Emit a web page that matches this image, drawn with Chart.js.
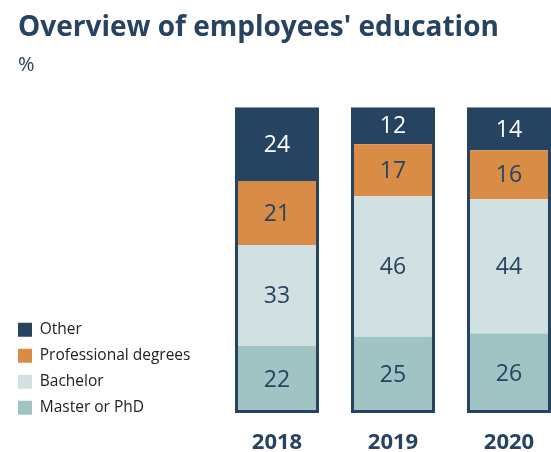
<!DOCTYPE html>
<html>
<head>
<meta charset="utf-8">
<script src="https://cdn.jsdelivr.net/npm/chart.js@4"></script>
<style>
  html, body { margin: 0; padding: 0; background: #fff; overflow: hidden; }
  #frame { width: 551px; height: 452px; overflow: hidden; position: relative; }
  #wrap { width: 575px; height: 452px; position: absolute; left: 0; top: 0; }
</style>
</head>
<body>
<div id="frame"><div id="wrap"><canvas id="eduChart"></canvas></div></div>
<script>
// Overview of employees' education (%)
const years = ["2018", "2019", "2020"];
const masterPhd = [22, 25, 26];
const bachelor = [33, 46, 44];
const professional = [21, 17, 16];
const other = [24, 12, 14];

const navy = "#264361";

// thick navy frame round each stacked bar
const barFrame = {
    id: 'barFrame',
    afterDatasetsDraw(chart) {
        const ctx = chart.ctx;
        const first = chart.getDatasetMeta(0).data;
        const last = chart.getDatasetMeta(chart.data.datasets.length - 1).data;
        ctx.save();
        ctx.strokeStyle = navy;
        ctx.lineWidth = 3;
        first.forEach((bar, i) => {
            const left = bar.x - bar.width / 2;
            const top = last[i].y;
            ctx.strokeRect(left + 1.5, top + 1.5, bar.width - 3, bar.base - top - 3);
        });
        ctx.restore();
    }
};

// value labels in the middle of every segment
const segLabels = {
    id: 'segLabels',
    afterDatasetsDraw(chart) {
        const ctx = chart.ctx;
        ctx.save();
        ctx.font = '23px "Open Sans"';
        ctx.textAlign = 'center';
        ctx.textBaseline = 'middle';
        chart.data.datasets.forEach((ds, d) => {
            ctx.fillStyle = ds.labelColor;
            chart.getDatasetMeta(d).data.forEach((bar, i) => {
                ctx.fillText(ds.data[i], bar.x, (bar.y + bar.base) / 2 + 1);
            });
        });
        ctx.restore();
    }
};

// legend: fixed width so the plot starts where the original does, then nudged into place
const legendPlace = {
    id: 'legendPlace',
    beforeLayout(chart) {
        const lg = chart.legend;
        if (lg && !lg._fixedFit) {
            const fit = lg.fit;
            lg.fit = function () {
                fit.call(this);
                this.width = 201;
            };
            lg._fixedFit = true;
        }
    },
    afterLayout(chart) {
        const lg = chart.legend;
        lg.left -= 10.5;
        lg.right -= 10.5;
        lg.top -= 26;
        lg.bottom -= 26;
    }
};

function draw() {
    new Chart(document.getElementById('eduChart'), {
        type: 'bar',
        data: {
            labels: years,
            datasets: [
                { label: "Master or PhD", data: masterPhd, backgroundColor: "#9fc4c3", labelColor: navy },
                { label: "Bachelor", data: bachelor, backgroundColor: "#d1e0e0", labelColor: navy },
                { label: "Professional degrees", data: professional, backgroundColor: "#d98c45", labelColor: navy },
                { label: "Other", data: other, backgroundColor: navy, labelColor: "#ffffff" }
            ]
        },
        plugins: [barFrame, segLabels, legendPlace],
        options: {
            responsive: true,
            maintainAspectRatio: false,
            animation: false,
            categoryPercentage: 0.724,
            barPercentage: 1,
            layout: { padding: { left: 18, right: 8, top: 0, bottom: 0 } },
            scales: {
                x: {
                    stacked: true,
                    grid: { display: false },
                    border: { display: false },
                    ticks: {
                        color: navy,
                        padding: 9,
                        maxRotation: 0,
                        font: { family: '"Open Sans"', size: 22, weight: 'bold' }
                    },
                    afterFit(scale) {
                        scale.height = 39;
                    }
                },
                y: {
                    stacked: true,
                    display: false,
                    min: 0,
                    max: 100
                }
            },
            plugins: {
                title: {
                    display: true,
                    text: "Overview of employees' education",
                    align: 'start',
                    color: navy,
                    font: { family: '"Open Sans"', size: 28, weight: 'bold' },
                    padding: { top: 11, bottom: 0 }
                },
                subtitle: {
                    display: true,
                    text: "%",
                    align: 'start',
                    color: navy,
                    font: { family: '"Open Sans"', size: 20 },
                    padding: { top: 9, bottom: 30 }
                },
                legend: {
                    position: 'left',
                    align: 'end',
                    reverse: true,
                    labels: {
                        color: "#222222",
                        boxWidth: 14,
                        boxHeight: 14,
                        padding: 10.5,
                        font: { family: '"Open Sans"', size: 15.5 }
                    }
                },
                tooltip: { enabled: false }
            }
        }
    });
}

Promise.all([
    document.fonts.load('bold 28px "Open Sans"'),
    document.fonts.load('20px "Open Sans"')
]).then(draw, draw);
</script>
</body>
</html>
